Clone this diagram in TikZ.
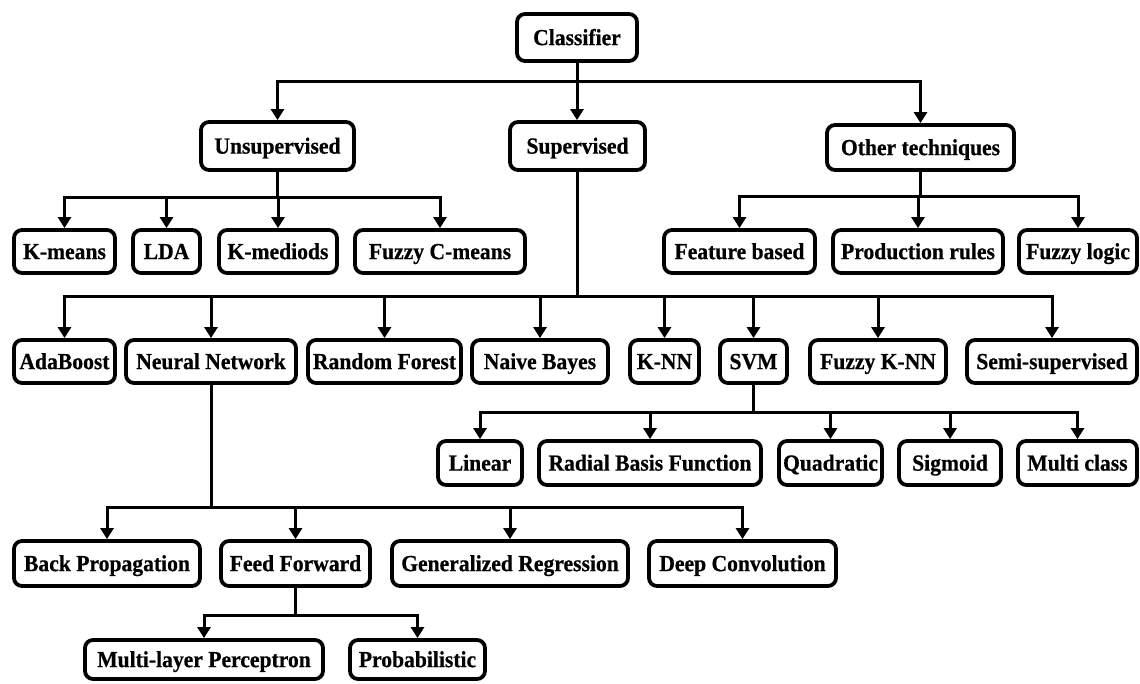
\documentclass[tikz,border=0pt]{standalone}
\usepackage{fontspec}
\setmainfont{Liberation Serif}[FakeStretch=0.94,FakeBold=0.6]
\usetikzlibrary{arrows.meta}
\begin{document}
\begin{tikzpicture}[x=1pt,y=-1pt,
  box/.style={draw=black, line width=3.8pt, rounded corners=8pt, fill=white,
    inner sep=0pt, font=\fontsize{23}{25}\selectfont\bfseries,
    text height=15.2pt, text depth=0pt, align=center},
  conn/.style={line width=3pt, -{Triangle[length=11pt,width=13pt]}},
  bus/.style={line width=3pt}]
\useasboundingbox (0,0) rectangle (1140,684);
% row 1
\node[box,minimum width=120pt,minimum height=47pt] (cls) at (577,37.5) {Classifier};
% row 2
\node[box,minimum width=153pt,minimum height=48pt] (uns) at (277.5,146) {Unsupervised};
\node[box,minimum width=135pt,minimum height=48pt] (sup) at (577.5,146) {Supervised};
\node[box,minimum width=187pt,minimum height=45pt] (oth) at (920.5,147.5) {Other techniques};
% row 3
\node[box,minimum width=101pt,minimum height=43pt] (km) at (64.5,251.5) {K-means};
\node[box,minimum width=67pt,minimum height=43pt] (lda) at (166.5,251.5) {LDA};
\node[box,minimum width=118pt,minimum height=43pt] (kmed) at (278,251.5) {K-mediods};
\node[box,minimum width=170pt,minimum height=43pt] (fcm) at (440,251.5) {Fuzzy C-means};
\node[box,minimum width=151pt,minimum height=43pt] (feat) at (739.5,251.5) {Feature based};
\node[box,minimum width=170pt,minimum height=43pt] (prod) at (918,251.5) {Production rules};
\node[box,minimum width=118pt,minimum height=43pt] (fl) at (1078,251.5) {Fuzzy logic};
% row 4
\node[box,minimum width=101pt,minimum height=43pt] (ada) at (64.5,361.5) {AdaBoost};
\node[box,minimum width=170pt,minimum height=43pt] (nn) at (211,361.5) {Neural Network};
\node[box,minimum width=153pt,minimum height=43pt] (rf) at (384.5,361.5) {Random Forest};
\node[box,minimum width=136pt,minimum height=43pt] (nb) at (540,361.5) {Naive Bayes};
\node[box,minimum width=69pt,minimum height=43pt] (knn) at (664.5,361.5) {K-NN};
\node[box,minimum width=67pt,minimum height=43pt] (svm) at (753.5,361.5) {SVM};
\node[box,minimum width=136pt,minimum height=43pt] (fknn) at (878,361.5) {Fuzzy K-NN};
\node[box,minimum width=170pt,minimum height=43pt] (semi) at (1052,361.5) {Semi-supervised};
% row 5
\node[box,minimum width=84pt,minimum height=44pt] (lin) at (480,463) {Linear};
\node[box,minimum width=222pt,minimum height=44pt] (rbf) at (650,463) {Radial Basis Function};
\node[box,minimum width=103pt,minimum height=44pt] (quad) at (830.5,463) {Quadratic};
\node[box,minimum width=102pt,minimum height=44pt] (sig) at (950,463) {Sigmoid};
\node[box,minimum width=119pt,minimum height=44pt] (mc) at (1077.5,463) {Multi class};
% row 6
\node[box,minimum width=186pt,minimum height=45pt] (bp) at (107,563.5) {Back Propagation};
\node[box,minimum width=149pt,minimum height=45pt] (ff) at (295.5,563.5) {Feed Forward};
\node[box,minimum width=236pt,minimum height=45pt] (gr) at (510,563.5) {Generalized Regression};
\node[box,minimum width=187pt,minimum height=45pt] (dc) at (742.5,563.5) {Deep Convolution};
% row 7
\node[box,minimum width=238pt,minimum height=39pt] (mlp) at (204,659.5) {Multi-layer Perceptron};
\node[box,minimum width=135pt,minimum height=39pt] (prob) at (417.5,659.5) {Probabilistic};
% connectors
\draw[conn] (cls.south) -- (cls.south |- sup.north);
\foreach \c in {uns,oth} \draw[conn] (cls.south |- 0,82) -| (\c.north);
\foreach \c in {km,lda,kmed,fcm} \draw[conn] (uns.south) -- (uns.south |- 0,198) -| (\c.north);
\foreach \c in {feat,prod,fl} \draw[conn] (oth.south) -- (oth.south |- 0,197) -| (\c.north);
\foreach \c in {ada,nn,rf,nb,knn,svm,fknn,semi} \draw[conn] (sup.south) -- (sup.south |- 0,297) -| (\c.north);
\foreach \c in {lin,rbf,quad,sig,mc} \draw[conn] (svm.south) -- (svm.south |- 0,412) -| (\c.north);
\foreach \c in {bp,ff,gr,dc} \draw[conn] (nn.south) -- (nn.south |- 0,507) -| (\c.north);
\foreach \c in {mlp,prob} \draw[conn] (ff.south) -- (ff.south |- 0,615) -| (\c.north);
\end{tikzpicture}
\end{document}
